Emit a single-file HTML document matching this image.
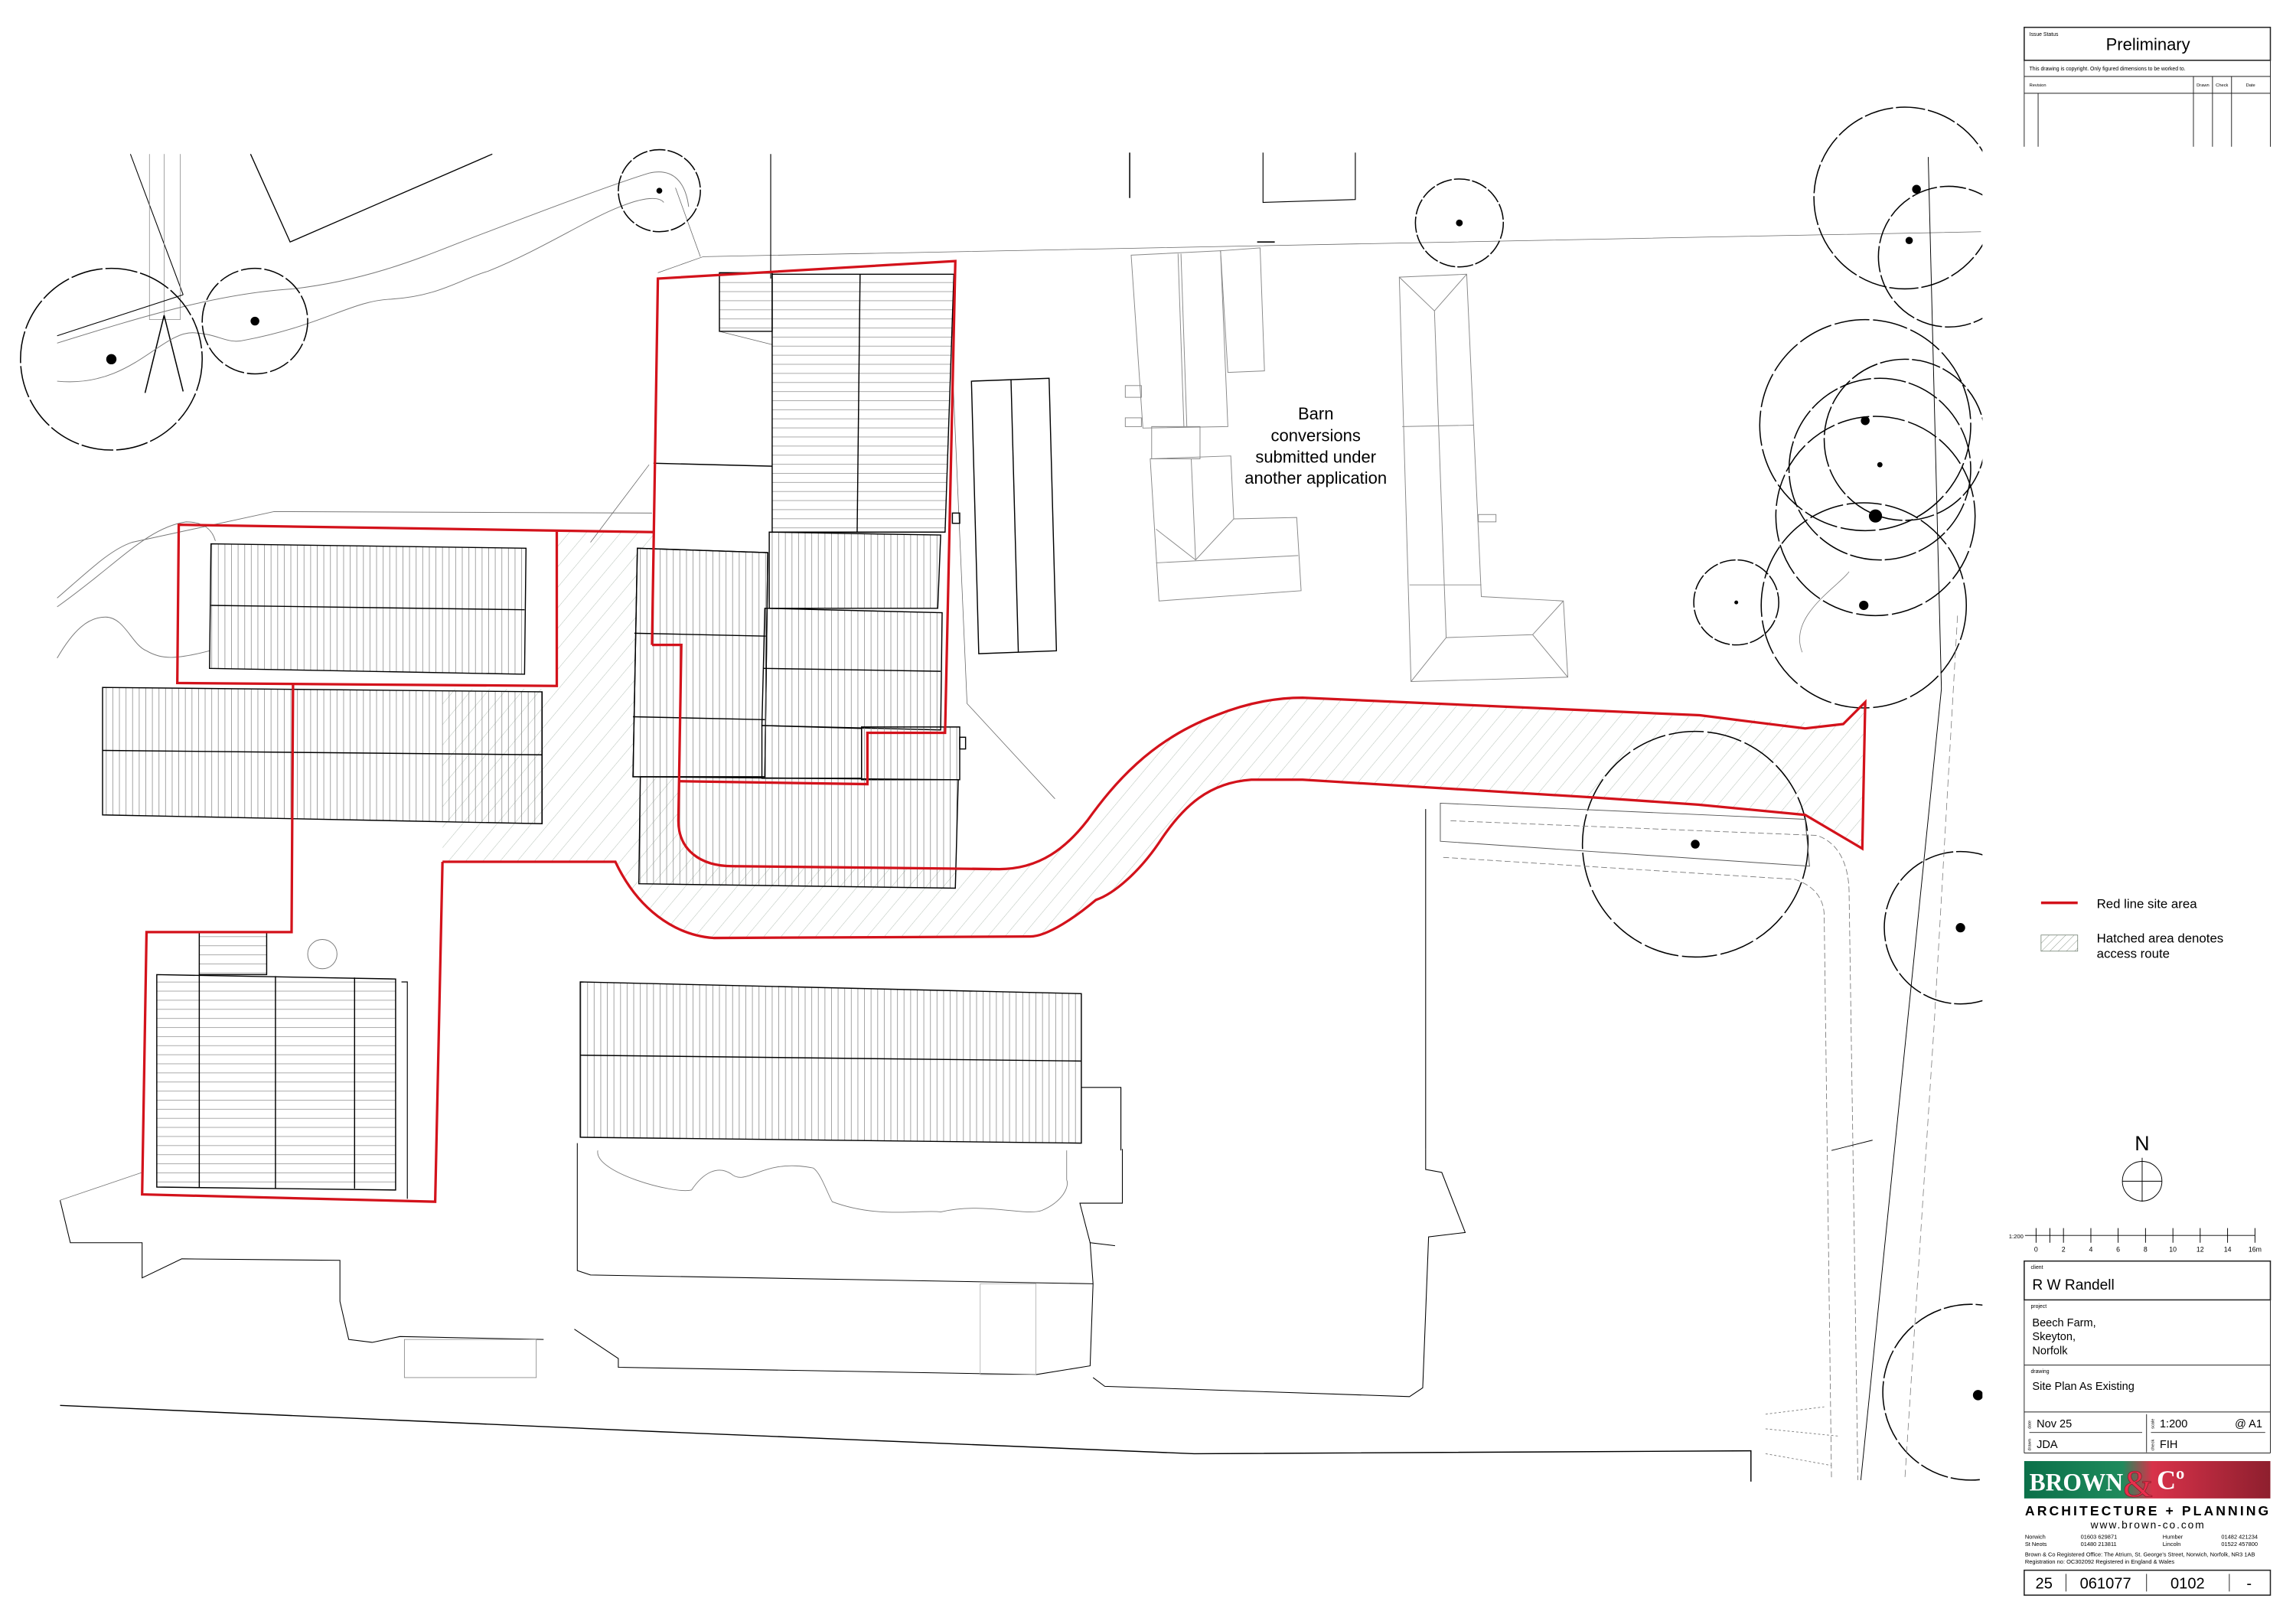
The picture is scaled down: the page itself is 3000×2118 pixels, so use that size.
<!DOCTYPE html>
<html><head><meta charset="utf-8"><style>
html,body{margin:0;padding:0;background:#fff;}
svg{display:block;}
text{font-family:"Liberation Sans",sans-serif;fill:#000;}
</style></head><body>
<svg width="3000" height="2118" viewBox="0 0 1567 1106" xmlns="http://www.w3.org/2000/svg">
<defs>
<pattern id="vh" patternUnits="userSpaceOnUse" width="4.5" height="10"><line x1="0.5" y1="0" x2="0.5" y2="10" stroke="#777" stroke-width="0.35"/></pattern>
<pattern id="hh" patternUnits="userSpaceOnUse" width="10" height="6.2"><line x1="0" y1="0.5" x2="10" y2="0.5" stroke="#777" stroke-width="0.35"/></pattern>
<pattern id="ah" patternUnits="userSpaceOnUse" width="9" height="9" patternTransform="rotate(40)"><line x1="0" y1="0" x2="0" y2="9" stroke="#a9b7ab" stroke-width="0.45"/></pattern>
<pattern id="lh" patternUnits="userSpaceOnUse" width="4" height="4" patternTransform="rotate(45)"><line x1="0" y1="0" x2="0" y2="4" stroke="#6a7a6a" stroke-width="0.4"/></pattern>
<clipPath id="dc"><rect x="0" y="0" width="1353" height="1106"/></clipPath>
<linearGradient id="lg" x1="0" y1="0" x2="1" y2="0">
<stop offset="0" stop-color="#0b7049"/><stop offset="0.4" stop-color="#1f8a5c"/><stop offset="0.52" stop-color="#d8324a"/><stop offset="1" stop-color="#8e1f2e"/></linearGradient>
</defs>
<rect width="1567" height="1106" fill="#fff"/>
<g clip-path="url(#dc)" fill="none" stroke="#000" stroke-width="0.55">

<path d="M302,588 L302,470 L380,470 L380,362 L446,362 L445,440 L465,440 L463,560 C463,580 478,591 500,591 L682,593 C710,593 728,578 742,560 C760,535 785,505 830,488 C850,480 870,476 889,476 L1258,494 L1272,480 L1270,578 L1232,556 L1159,549 L1086,544 L889,532 L854,532 C825,534 808,550 793,572 C778,595 760,610 748,614 C735,625 715,639 703,639 L487,640 C460,638 435,620 420,588 Z" fill="url(#ah)" stroke="none"/>

<polyline points="89,105 125,201"/>
<polyline points="102,105 102,218 123,218 123,105" stroke="#888" stroke-width="0.4"/>
<polyline points="112,105 112,218" stroke="#888" stroke-width="0.4"/>
<polyline points="39,229 125,201"/>
<polyline points="99,268 112,215 125,267" stroke-width="0.8"/>
<polyline points="171,105 198,165 336,105" stroke-width="0.7"/>
<path d="M39,234 C100,215 150,200 200,197 C260,190 300,170 333,158 C380,140 420,125 443,118 C460,114 468,125 470,141" stroke="#777" stroke-width="0.5"/>
<path d="M39,260 C90,265 110,225 133,227 C150,228 155,235 167,232 C220,222 240,205 267,204 C300,202 315,190 333,185 C370,170 400,150 423,141 C440,134 450,134 453,138" stroke="#777" stroke-width="0.5"/>
<path d="M39,408 C60,390 75,375 90,370 L187,349 L445,350" stroke="#777" stroke-width="0.5"/>
<path d="M39,414 C80,385 100,360 127,356 C140,356 145,362 147,369" stroke="#777" stroke-width="0.5"/>
<path d="M39,449 C50,430 60,421 72,421 C85,421 90,440 100,444 C110,450 120,450 143,444" stroke="#777" stroke-width="0.5"/>
<polyline points="403,370 443,317" stroke="#666" stroke-width="0.4"/>
<polyline points="449,186 480,175 1352,158" stroke="#666" stroke-width="0.4"/>
<polyline points="461,128 478,175" stroke="#666" stroke-width="0.4"/>
<polyline points="526,105 526,190" stroke-width="0.6"/>
<polyline points="491,226 527,235" stroke="#666" stroke-width="0.4"/>
<polyline points="650,250 660,480 720,545" stroke="#666" stroke-width="0.4"/>
<polyline points="771,104 771,135" stroke-width="0.8"/>
<polyline points="862,104 862,138 925,136 925,104" stroke-width="0.6"/>
<polyline points="858,165 870,165" stroke-width="0.8"/>

<g stroke-width="0.8">
<circle cx="76" cy="245" r="62" stroke-dasharray="22 2"/>
<circle cx="174" cy="219" r="36" stroke-dasharray="14 2"/>
<circle cx="450" cy="130" r="28" stroke-dasharray="11 1.5"/>
<circle cx="996" cy="152" r="30" stroke-dasharray="11 1.5"/>
<circle cx="1185" cy="411" r="29" stroke-dasharray="11 1.5"/>
<circle cx="1157" cy="576" r="77" stroke-dasharray="24 2.5"/>
<circle cx="1300" cy="135" r="62" stroke-dasharray="20 2"/>
<circle cx="1330" cy="175" r="48" stroke-dasharray="18 2"/>
<circle cx="1273" cy="290" r="72" stroke-dasharray="24 2.5"/>
<circle cx="1300" cy="300" r="55" stroke-dasharray="20 2"/>
<circle cx="1283" cy="320" r="62" stroke-dasharray="22 2"/>
<circle cx="1280" cy="352" r="68" stroke-dasharray="22 2.5"/>
<circle cx="1272" cy="413" r="70" stroke-dasharray="24 2.5"/>
<circle cx="1338" cy="633" r="52" stroke-dasharray="20 2"/>
<circle cx="1345" cy="950" r="60" stroke-dasharray="20 2"/>
</g>
<g fill="#000" stroke="none">
<circle cx="76" cy="245" r="3.5"/><circle cx="174" cy="219" r="3"/><circle cx="450" cy="130" r="2"/>
<circle cx="996" cy="152" r="2.3"/><circle cx="1185" cy="411" r="1.3"/><circle cx="1157" cy="576" r="3"/>
<circle cx="1308" cy="129" r="3"/><circle cx="1303" cy="164" r="2.5"/><circle cx="1273" cy="287" r="3"/>
<circle cx="1283" cy="317" r="1.8"/><circle cx="1280" cy="352" r="4.5"/><circle cx="1272" cy="413" r="3.2"/>
<circle cx="1338" cy="633" r="3.2"/><circle cx="1350" cy="952" r="3.5"/>
</g>
<path d="M1316,107 L1325,470 L1270,1010" stroke-width="0.5"/>
<path d="M1336,420 L1320,700 L1300,1010" stroke="#777" stroke-dasharray="5 3" stroke-width="0.4"/>
<path d="M1230,445 C1220,420 1255,400 1262,390" stroke="#777" stroke-width="0.4"/>

<g stroke="#888" stroke-width="0.5">
<polygon points="772,174 833,171 838,291 780,292"/>
<line x1="804" y1="173" x2="808" y2="291"/><line x1="806" y1="173" x2="810" y2="291"/>
<polygon points="833,171 860,169 863,253 838,254"/>
<rect x="768" y="263" width="11" height="8"/><rect x="768" y="285" width="11" height="6"/>
<polygon points="786,291 819,291 819,313 786,313"/>
<polygon points="785,313 840,311 842,354 885,353 888,403 791,410"/>
<polyline points="789,361 816,382 842,354"/>
<line x1="789" y1="384" x2="886" y2="379"/><line x1="813" y1="313" x2="816" y2="382"/>
<polygon points="955,189 1001,187 1011,407 1067,410 1070,462 963,465"/>
<polyline points="955,189 979,212 1001,187"/><line x1="979" y1="212" x2="987" y2="435"/>
<polyline points="963,465 987,435 1046,433 1067,410"/><line x1="1046" y1="433" x2="1070" y2="462"/>
<line x1="957" y1="291" x2="1006" y2="290"/><line x1="962" y1="399" x2="1011" y2="399"/>
<rect x="1009" y="351" width="12" height="5"/>
</g>

<g stroke-width="0.75">
<polygon points="144,371 359,374 358,460 143,456" fill="url(#vh)"/><line x1="144" y1="413" x2="358" y2="416"/>
<polygon points="70,469 370,472 370,562 70,556" fill="url(#vh)"/><line x1="70" y1="512" x2="370" y2="515"/>
<polygon points="107,665 270,668 270,812 107,810" fill="url(#hh)"/>
<line x1="136" y1="665" x2="136" y2="810"/><line x1="188" y1="666" x2="188" y2="811"/><line x1="242" y1="667" x2="242" y2="811"/>
<polygon points="136,636 182,636 182,665 136,665" fill="url(#hh)"/>
<circle cx="220" cy="651" r="10" stroke="#777" stroke-width="0.5"/>
<polyline points="274,670 278,670 278,818" stroke-width="0.6"/>
<polygon points="491,186 527,186 527,226 491,226" fill="url(#hh)"/>
<polygon points="527,187 651,187 645,363 527,363" fill="url(#hh)"/><line x1="587" y1="187" x2="585" y2="363"/>
<line x1="446" y1="316" x2="527" y2="318"/>
<polygon points="435,374 524,377 522,530 432,530" fill="#fff"/>
<polygon points="435,374 524,377 522,530 432,530" fill="url(#vh)"/>
<line x1="433" y1="432" x2="523" y2="434"/><line x1="432" y1="489" x2="522" y2="491"/>
<polygon points="525,363 642,365 640,415 525,415" fill="url(#vh)"/>
<polygon points="522,415 643,418 642,498 520,495" fill="url(#vh)"/><line x1="521" y1="456" x2="642" y2="458"/>
<polygon points="520,495 588,497 588,531 520,531" fill="url(#vh)"/>
<polygon points="588,496 655,496 655,532 588,532" fill="url(#vh)"/>
<polygon points="437,530 654,532 652,606 436,603" fill="url(#vh)"/>
<rect x="650" y="350" width="5" height="7"/><rect x="655" y="503" width="4" height="8"/>
<polygon points="663,260 716,258 721,444 668,446"/><line x1="690" y1="259" x2="695" y2="445"/>
<polygon points="396,670 738,678 738,780 396,776" fill="url(#vh)"/><line x1="396" y1="720" x2="738" y2="724"/>
<polyline points="738,742 765,742 765,785" stroke-width="0.6"/>
</g>

<polyline points="41,819 48,848 97,848 97,872 124,859 232,860 232,888 238,914 254,916 273,912 371,914"/>
<polygon points="276,914 366,914 366,940 276,940" stroke="#888" stroke-width="0.45"/>
<polyline points="41,819 97,800" stroke="#777" stroke-width="0.4"/>
<polyline points="394,780 394,867 403,870 746,876"/>
<polyline points="392,907 422,927 422,933 707,938 744,932 746,876 744,848 761,850"/>
<polyline points="744,848 737,821 766,821 766,784"/>
<path d="M408,785 C405,800 460,815 472,812 C480,800 490,795 499,801 C510,810 520,790 555,797 C560,800 565,815 568,820 C600,832 630,825 642,827 C670,820 700,830 711,826 C725,820 730,810 728,805 L728,785" stroke="#777" stroke-width="0.45"/>
<polyline points="973,784 973,798 984,800 1000,841 975,844 971,947 962,953 754,946 746,940"/>
<polyline points="973,552 973,784"/>
<polygon points="669,876 707,876 707,938 669,938" stroke="#aaa" stroke-width="0.4"/>
<polyline points="41,959 451,977 815,992 1195,990 1195,1011" stroke-width="0.75"/>
<polygon points="983,548 1232,559 1235,591 983,574" stroke="#555" stroke-width="0.5"/>
<path d="M990,560 L1240,570 C1255,575 1262,590 1262,610 L1268,1010" stroke="#777" stroke-dasharray="4 2" stroke-width="0.45"/>
<path d="M985,585 L1225,600 C1240,605 1245,615 1245,625 L1250,1010" stroke="#777" stroke-dasharray="4 2" stroke-width="0.45"/>
<path d="M1205,965 L1245,960 M1205,975 L1255,980 M1205,992 L1250,1000" stroke="#777" stroke-dasharray="1.5 1.5" stroke-width="0.45"/>
<polyline points="1250,785 1278,778" stroke-width="0.5"/>

<g stroke="#d3121b" stroke-width="1.7" stroke-linejoin="miter">
<polyline points="445,440 449,190 652,178 645,500 592,500 592,535 464,533"/>
<path d="M445,440 L465,440 L463,560 C463,580 478,591 500,591 L682,593 C710,593 728,578 742,560 C760,535 785,505 830,488 C850,480 870,476 889,476 L1160,488 L1232,497 L1258,494 L1273,479 L1271,579 L1232,556 L1159,549 L1086,544 L889,532 L854,532 C825,534 808,550 793,572 C778,595 760,610 748,614 C735,625 715,639 703,639 L487,640 C460,638 435,620 420,588 L302,588"/>
<polyline points="446,363 122,358 121,466 380,468 380,362"/>
<polyline points="200,466 199,636 100,636 97,815 297,820 302,588"/>
</g>
</g>

<g font-size="11.5" text-anchor="middle">
<text x="898" y="286">Barn</text>
<text x="898" y="301">conversions</text>
<text x="898" y="315.5">submitted under</text>
<text x="898" y="330">another application</text>
</g>

<line x1="1393" y1="616" x2="1418" y2="616" stroke="#d3121b" stroke-width="1.8"/>
<text x="1431" y="619.5" font-size="8.8">Red line site area</text>
<rect x="1393" y="638" width="25" height="11" fill="url(#lh)" stroke="#6a7a6a" stroke-width="0.4"/>
<text x="1431" y="643" font-size="8.8">Hatched area denotes</text>
<text x="1431" y="653.5" font-size="8.8">access route</text>
<text x="1462" y="785" font-size="14" text-anchor="middle">N</text>
<circle cx="1462" cy="806" r="13.5" fill="none" stroke="#000" stroke-width="0.5"/>
<line x1="1462" y1="790" x2="1462" y2="820" stroke="#000" stroke-width="0.5"/><line x1="1448.5" y1="806" x2="1475.5" y2="806" stroke="#000" stroke-width="0.5"/>

<g fill="none" stroke="#222" stroke-width="0.5">
<rect x="1381.5" y="18.5" width="168" height="22.5" stroke-width="0.8"/>
<line x1="1381.5" y1="41" x2="1381.5" y2="100"/><line x1="1549.5" y1="41" x2="1549.5" y2="100"/>
<line x1="1381.5" y1="52" x2="1549.5" y2="52"/><line x1="1381.5" y1="63.5" x2="1549.5" y2="63.5"/>
<line x1="1391" y1="63.5" x2="1391" y2="100"/><line x1="1497" y1="52" x2="1497" y2="100"/>
<line x1="1510" y1="52" x2="1510" y2="100"/><line x1="1523" y1="52" x2="1523" y2="100"/>
</g>
<text x="1385" y="24.5" font-size="3.6">Issue Status</text>
<text x="1466" y="34" font-size="11.5" text-anchor="middle">Preliminary</text>
<text x="1385" y="48" font-size="3.6">This drawing is copyright.  Only figured dimensions to be worked to.</text>
<text x="1385" y="59" font-size="3">Revision</text>
<text x="1503.5" y="59" font-size="3" text-anchor="middle">Drawn</text>
<text x="1516.5" y="59" font-size="3" text-anchor="middle">Check</text>
<text x="1536" y="59" font-size="3" text-anchor="middle">Date</text>

<g stroke="#000" stroke-width="0.5">
<line x1="1382" y1="843" x2="1539" y2="843"/>
<line x1="1389.6" y1="838" x2="1389.6" y2="848"/><line x1="1399" y1="838" x2="1399" y2="848"/>
<line x1="1408.3" y1="838" x2="1408.3" y2="848"/><line x1="1427" y1="838" x2="1427" y2="848"/>
<line x1="1445.6" y1="838" x2="1445.6" y2="848"/><line x1="1464.3" y1="838" x2="1464.3" y2="848"/>
<line x1="1483" y1="838" x2="1483" y2="848"/><line x1="1501.6" y1="838" x2="1501.6" y2="848"/>
<line x1="1520.3" y1="838" x2="1520.3" y2="848"/><line x1="1539" y1="838" x2="1539" y2="848"/>
</g>
<g font-size="4.6" text-anchor="middle">
<text x="1381" y="845" text-anchor="end" font-size="4">1:200</text>
<text x="1389.6" y="854">0</text><text x="1408.3" y="854">2</text><text x="1427" y="854">4</text><text x="1445.6" y="854">6</text><text x="1464.3" y="854">8</text><text x="1483" y="854">10</text><text x="1501.6" y="854">12</text><text x="1520.3" y="854">14</text><text x="1539" y="854">16m</text>
</g>

<g fill="none" stroke="#222" stroke-width="0.5">
<rect x="1381.5" y="860.5" width="168" height="26.5" stroke-width="0.8"/>
<line x1="1381.5" y1="887" x2="1381.5" y2="991.5"/><line x1="1549.5" y1="887" x2="1549.5" y2="991.5"/>
<line x1="1381.5" y1="931.5" x2="1549.5" y2="931.5"/><line x1="1381.5" y1="963.5" x2="1549.5" y2="963.5"/>
<line x1="1381.5" y1="991.5" x2="1549.5" y2="991.5"/>
<line x1="1465" y1="965" x2="1465" y2="991"/>
<line x1="1385" y1="977.5" x2="1462" y2="977.5"/><line x1="1468" y1="977.5" x2="1546" y2="977.5"/>
<rect x="1381.5" y="1071.5" width="168" height="17" stroke-width="0.8"/>
<line x1="1410" y1="1074" x2="1410" y2="1086"/><line x1="1465" y1="1074" x2="1465" y2="1086"/><line x1="1521.5" y1="1074" x2="1521.5" y2="1086"/>
</g>
<text x="1386" y="866" font-size="3.6">client</text>
<text x="1387" y="880" font-size="10">R W Randell</text>
<text x="1386" y="892.5" font-size="3.6">project</text>
<text x="1387" y="905" font-size="7.6">Beech Farm,</text>
<text x="1387" y="914.5" font-size="7.6">Skeyton,</text>
<text x="1387" y="924" font-size="7.6">Norfolk</text>
<text x="1386" y="937" font-size="3.6">drawing</text>
<text x="1387" y="948.5" font-size="7.6">Site Plan As Existing</text>
<text x="1386" y="975" font-size="3" transform="rotate(-90 1386 975)">date</text>
<text x="1390" y="974" font-size="7.6">Nov 25</text>
<text x="1386" y="990" font-size="3" transform="rotate(-90 1386 990)">drawn</text>
<text x="1390" y="988" font-size="7.6">JDA</text>
<text x="1470" y="975" font-size="3" transform="rotate(-90 1470 975)">scale</text>
<text x="1474" y="974" font-size="7.6">1:200</text>
<text x="1544" y="974" font-size="7.6" text-anchor="end">@ A1</text>
<text x="1470" y="990" font-size="3" transform="rotate(-90 1470 990)">check</text>
<text x="1474" y="988" font-size="7.6">FIH</text>

<rect x="1381.5" y="997" width="168" height="25.5" fill="url(#lg)"/>
<text x="1385" y="1017" font-size="17" font-weight="bold" textLength="64" lengthAdjust="spacingAndGlyphs" style="fill:#fff;font-family:'Liberation Serif',serif">BROWN</text>
<text x="1449" y="1021" font-size="26" style="fill:#e8304d;stroke:#7a0f1f;stroke-width:0.3;font-family:'Liberation Serif',serif">&amp;</text>
<text x="1472" y="1016" font-size="18" font-weight="bold" style="fill:#fff;font-family:'Liberation Serif',serif">Cº</text>
<text x="1466" y="1034" font-size="9.2" font-weight="bold" text-anchor="middle" letter-spacing="1.6">ARCHITECTURE + PLANNING</text>
<text x="1466" y="1043" font-size="7.2" text-anchor="middle" letter-spacing="1">www.brown-co.com</text>
<g font-size="3.9" fill="#333">
<text x="1382" y="1050">Norwich</text><text x="1420" y="1050">01603 629871</text><text x="1476" y="1050">Humber</text><text x="1516" y="1050">01482 421234</text>
<text x="1382" y="1055">St Neots</text><text x="1420" y="1055">01480 213811</text><text x="1476" y="1055">Lincoln</text><text x="1516" y="1055">01522 457800</text>
<text x="1382" y="1062">Brown &amp; Co Registered Office: The Atrium, St. George's Street, Norwich, Norfolk, NR3 1AB</text>
<text x="1382" y="1067">Registration no: OC302092  Registered in England &amp; Wales</text>
</g>
<g font-size="10.5" text-anchor="middle">
<text x="1395" y="1084">25</text><text x="1437" y="1084">061077</text><text x="1493" y="1084">0102</text><text x="1535" y="1084">-</text>
</g>
</svg>
</body></html>
